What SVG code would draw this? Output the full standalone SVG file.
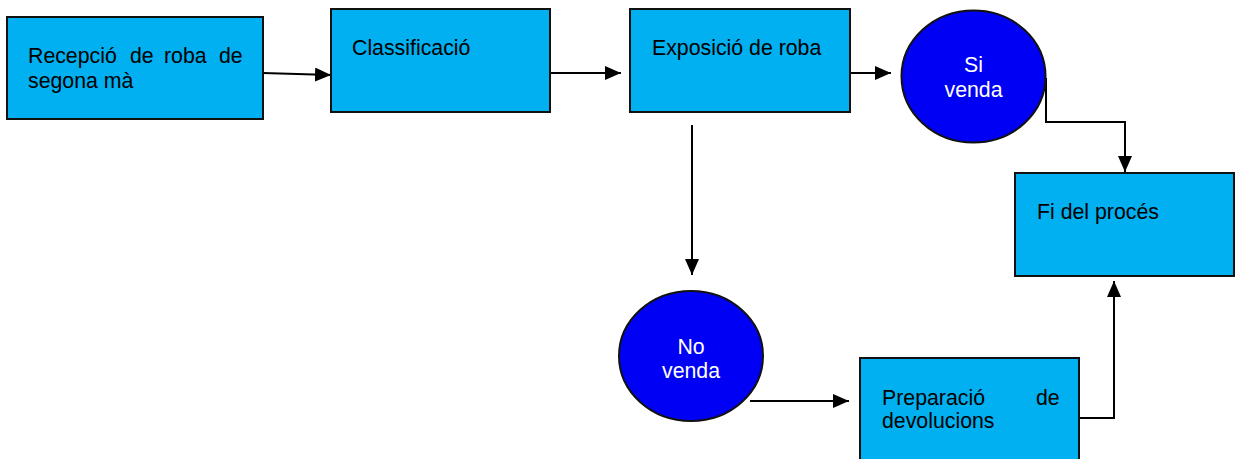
<svg xmlns="http://www.w3.org/2000/svg" width="1235" height="459" viewBox="0 0 1235 459">
<style>
.box{fill:#00B0F0;stroke:#111;stroke-width:2}
.ell{fill:#0000F5;stroke:#111;stroke-width:2}
.t{font-family:"Liberation Sans",Arial,sans-serif;font-size:21.3px;fill:#000}
.tw{font-family:"Liberation Sans",Arial,sans-serif;font-size:21.3px;fill:#fff;text-anchor:middle}
.c{fill:none;stroke:#000;stroke-width:2}
</style>
<defs>
<marker id="ah" markerUnits="userSpaceOnUse" markerWidth="18" markerHeight="16" refX="16" refY="7" orient="auto">
<path d="M0,0 L16,7 L0,14 Z" fill="#000"/>
</marker>
</defs>
<g id="connectors">
<path class="c" d="M263,73 L331,75" marker-end="url(#ah)"/>
<path class="c" d="M550,73 L621,73" marker-end="url(#ah)"/>
<path class="c" d="M850,73 L891,73" marker-end="url(#ah)"/>
<path class="c" d="M1046,78 L1046,122 L1125,122 L1125,172" marker-end="url(#ah)"/>
<path class="c" d="M692,125 L692,275" marker-end="url(#ah)"/>
<path class="c" d="M750,401 L849,401" marker-end="url(#ah)"/>
<path class="c" d="M1079,418 L1114,418 L1114,281" marker-end="url(#ah)"/>
</g>
<g id="n1">
<rect class="box" x="7" y="17" width="256" height="102"/>
<text class="t" y="63"><tspan x="28">Recepció</tspan><tspan x="130">de</tspan><tspan x="164">roba</tspan><tspan x="219">de</tspan></text>
<text class="t" x="28" y="88">segona mà</text>
</g>
<g id="n2">
<rect class="box" x="331" y="9" width="219" height="103"/>
<text class="t" x="352" y="55">Classificació</text>
</g>
<g id="n3">
<rect class="box" x="630" y="9" width="220" height="103"/>
<text class="t" x="652" y="55">Exposició de roba</text>
</g>
<g id="n4">
<ellipse class="ell" cx="973.5" cy="76.5" rx="72" ry="66"/>
<text class="tw" x="973.5" y="72">Si</text>
<text class="tw" x="973.5" y="97">venda</text>
</g>
<g id="n5">
<rect class="box" x="1015" y="173" width="219" height="103"/>
<text class="t" x="1037" y="219">Fi del procés</text>
</g>
<g id="n6">
<ellipse class="ell" cx="691" cy="356" rx="72" ry="65"/>
<text class="tw" x="691" y="354">No</text>
<text class="tw" x="691" y="378">venda</text>
</g>
<g id="n7">
<rect class="box" x="860" y="358" width="219" height="106"/>
<text class="t" y="405"><tspan x="882">Preparació</tspan><tspan x="1036">de</tspan></text>
<text class="t" x="882" y="428">devolucions</text>
</g>
</svg>
